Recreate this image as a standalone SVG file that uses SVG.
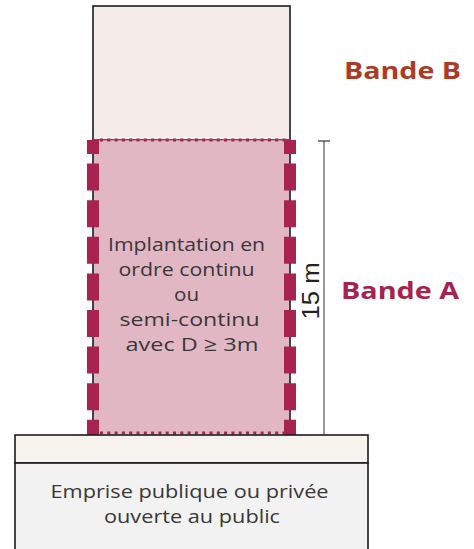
<svg xmlns="http://www.w3.org/2000/svg" width="474" height="549" viewBox="0 0 474 549">
  <style>
    .outline { stroke: #1b1b1b; stroke-width: 1.6; }
    .body { font-family: "Open Sans", "Noto Sans", sans-serif; font-size: 19px; fill: #383838; text-anchor: middle; }
    .band { font-family: "Open Sans", "Noto Sans", sans-serif; font-size: 24px; font-weight: 700; }
    .dash { stroke: #a8234f; stroke-width: 12; fill: none; stroke-dasharray: 27 9.6; stroke-dashoffset: 13; }
    .dots { stroke: #a8234f; stroke-width: 3; fill: none; stroke-dasharray: 3 4.3; }
  </style>
  <rect width="474" height="549" fill="#ffffff"/>

  <!-- Upper volume (band B) -->
  <g id="bande-b-volume">
    <rect x="93" y="6" width="197" height="134" fill="#f5ebe9" class="outline"/>
  </g>

  <!-- Lower volume (band A) -->
  <g id="bande-a-volume">
    <rect x="93" y="140" width="197" height="294" fill="#e2b7c4"/>
    <line x1="93" y1="140" x2="93" y2="435" class="outline"/>
    <line x1="290" y1="140" x2="290" y2="435" class="outline"/>
    <line x1="93" y1="140" x2="290" y2="140" stroke="#8a6a72" stroke-width="1"/>
    <line x1="100" y1="140" x2="288" y2="140" class="dots"/>
    <line x1="100" y1="433" x2="288" y2="433" class="dots"/>
    <line x1="93" y1="140" x2="93" y2="435" class="dash"/>
    <line x1="290" y1="140" x2="290" y2="435" class="dash"/>
    <text class="body">
      <tspan x="189" y="251" textLength="157" lengthAdjust="spacingAndGlyphs">Implantation en</tspan>
      <tspan x="189" y="276" textLength="136" lengthAdjust="spacingAndGlyphs">ordre continu</tspan>
      <tspan x="189" y="301" textLength="25" lengthAdjust="spacingAndGlyphs">ou</tspan>
      <tspan x="192" y="326" textLength="140" lengthAdjust="spacingAndGlyphs">semi-continu</tspan>
      <tspan x="192" y="351" textLength="133" lengthAdjust="spacingAndGlyphs">avec D ≥ 3m</tspan>
    </text>
  </g>

  <!-- Public space -->
  <g id="emprise">
    <rect x="15" y="435" width="353" height="28" fill="#f6f3ee" class="outline"/>
    <rect x="15" y="463" width="353" height="95" fill="#f2f2f2" class="outline"/>
    <text class="body">
      <tspan x="192" y="498" textLength="278" lengthAdjust="spacingAndGlyphs">Emprise publique ou privée</tspan>
      <tspan x="192" y="523" textLength="176" lengthAdjust="spacingAndGlyphs">ouverte au public</tspan>
    </text>
  </g>

  <!-- Labels -->
  <g id="label-bande-b">
    <text x="344" y="79" class="band" fill="#ad3a27" textLength="117" lengthAdjust="spacingAndGlyphs">Bande B</text>
  </g>
  <g id="label-bande-a">
    <text x="341" y="299" class="band" fill="#a6234f" textLength="118" lengthAdjust="spacingAndGlyphs">Bande A</text>
  </g>

  <!-- Height dimension -->
  <g id="connectors">
    <line x1="324" y1="141" x2="324" y2="435" stroke="#333333" stroke-width="1"/>
    <line x1="318" y1="141" x2="330" y2="141" stroke="#333333" stroke-width="1.2"/>
    <text transform="translate(319 291) rotate(-90)" font-family="'Liberation Sans', Arial, sans-serif" font-size="23" fill="#222222" text-anchor="middle" textLength="57" lengthAdjust="spacingAndGlyphs">15 m</text>
  </g>
</svg>
